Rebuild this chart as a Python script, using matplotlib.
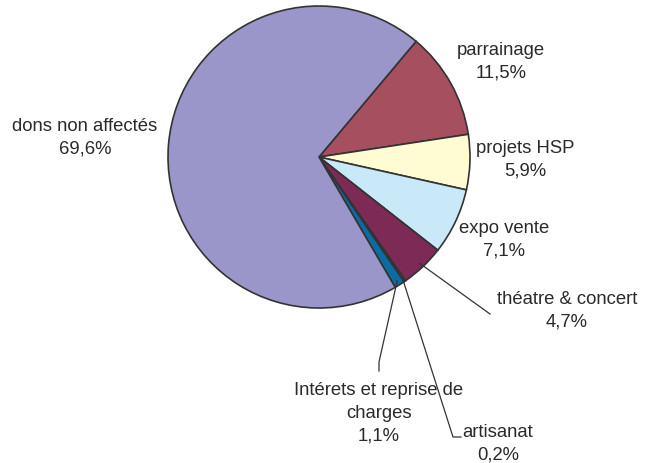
import numpy as np
import matplotlib
matplotlib.use("Agg")
import matplotlib.pyplot as plt

# -------------------------------------------------------------
#                   DATA
# -------------------------------------------------------------
labels = ["parrainage", "projets HSP", "expo vente", "théatre & concert",
          "artisanat", "Intérets et reprise de\ncharges", "dons non affectés"]
values = [11.5, 5.9, 7.1, 4.7, 0.2, 1.1, 69.6]
pct_text = ["11,5%", "5,9%", "7,1%", "4,7%", "0,2%", "1,1%", "69,6%"]
colors = ["#A64F5E", "#FFFBD3", "#C9E9F8", "#7E2A56", "#E8A07A", "#0B6CA3", "#9B96CA"]

# -------------------------------------------------------------
#                   LAYOUT (pixel space, y up)
# -------------------------------------------------------------
W, H = 645, 463
cx, cy, R = 319, H - 157, 151
start = 50.0

label_pos = {
    0: (501, H - 62),
    1: (525, H - 160),
    2: (504, H - 240),
    3: (567, H - 311),
    4: (498, H - 444),
    5: (379, H - 413),
    6: (85, H - 138),
}
# leader end points (elbow) for the small slices
leaders = {
    3: [(490, H - 314)],
    4: [(453, H - 437), (461, H - 437)],
    5: [(379, H - 362), (379, H - 371)],
}

plt.rcParams["font.family"] = ["Liberation Sans", "DejaVu Sans"]
fig = plt.figure(figsize=(W / 100, H / 100), dpi=100)
ax = fig.add_axes([0, 0, 1, 1])

wedges, _ = ax.pie(values, colors=colors, startangle=start, counterclock=False,
                   center=(cx, cy), radius=R,
                   wedgeprops=dict(edgecolor="#333333", linewidth=1.2))
ax.set_xlim(0, W)
ax.set_ylim(0, H)
ax.set_aspect("equal")
ax.axis("off")

for i, (lab, pct) in enumerate(zip(labels, pct_text)):
    x, y = label_pos[i]
    ax.text(x, y, lab + "\n" + pct, ha="center", va="center",
            fontsize=13.3, color="#2a2a2a", linespacing=1.45)
    if i in leaders:
        w = wedges[i]
        mid = np.deg2rad((w.theta1 + w.theta2) / 2)
        r0 = R * 0.97
        pts = [(cx + r0 * np.cos(mid), cy + r0 * np.sin(mid))] + leaders[i]
        xs, ys = zip(*pts)
        ax.plot(xs, ys, color="#333333", lw=0.9)

fig.savefig("out.png", dpi=100)
